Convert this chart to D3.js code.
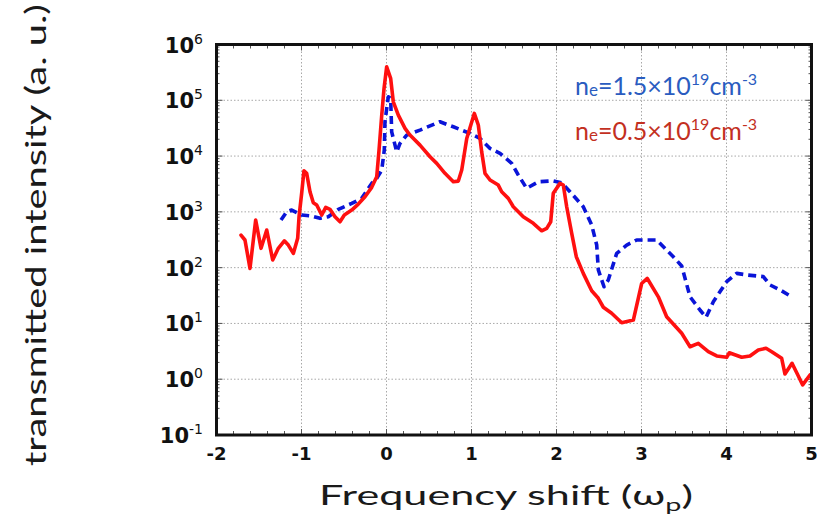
<!DOCTYPE html>
<html>
<head>
<meta charset="utf-8">
<script src="https://cdn.jsdelivr.net/npm/d3@7"></script>
<style>
  html, body { margin: 0; padding: 0; background: #fff; }
  svg { display: block; }
</style>
</head>
<body>
<svg id="chart" width="817" height="527"></svg>
<script>
// Spectrum for n_e = 0.5e19 cm^-3 (solid red)
const redX = [-1.712,-1.665,-1.606,-1.539,-1.476,-1.409,-1.339,-1.273,-1.202,-1.155,-1.096,-1.045,-1.029,-0.998,-0.971,-0.939,-0.900,-0.861,-0.821,-0.762,-0.715,-0.665,-0.606,-0.547,-0.496,-0.409,-0.332,-0.253,-0.174,-0.115,-0.088,-0.056,-0.029,0.002,0.049,0.080,0.139,0.218,0.276,0.394,0.512,0.591,0.688,0.786,0.845,0.885,0.944,1.033,1.080,1.120,1.159,1.218,1.315,1.355,1.433,1.492,1.609,1.727,1.826,1.885,1.932,1.962,2.041,2.080,2.120,2.179,2.233,2.315,2.414,2.492,2.551,2.649,2.767,2.904,3.002,3.068,3.198,3.296,3.473,3.571,3.668,3.786,3.885,4.002,4.033,4.179,4.276,4.374,4.465,4.532,4.649,4.688,4.771,4.845,4.896,4.982];
const redY = [384,313,97,713,222,472,137,222,303,254,180,335,817,2150,5460,4900,2290,1455,1325,877,1205,1110,817,665,877,1077,1380,1866,2750,4260,12800,54300,163000,398000,247000,94000,54300,31300,23800,15700,9730,7400,4900,3460,3560,5610,20700,58200,36000,11900,4900,3720,3020,2290,1745,1233,817,622,458,506,665,2150,3240,3020,1233,412,157,79,38.5,28.2,19.5,15.2,10.3,11.5,52,64,30,13.2,6.65,3.82,4.40,3.11,2.61,2.47,2.98,2.47,2.61,3.34,3.58,3.11,2.37,1.24,1.93,1.14,0.79,1.19];

// Spectrum for n_e = 1.5e19 cm^-3 (dashed blue)
const blueX = [-1.241,-1.174,-1.115,-0.998,-0.880,-0.782,-0.685,-0.567,-0.409,-0.292,-0.174,-0.115,-0.056,-0.026,-0.018,0.021,0.049,0.061,0.120,0.159,0.238,0.394,0.629,0.786,0.982,1.100,1.218,1.335,1.473,1.551,1.649,1.786,1.962,2.061,2.159,2.315,2.414,2.473,2.492,2.559,2.609,2.708,2.826,2.944,3.179,3.374,3.473,3.571,3.688,3.759,3.845,4.002,4.120,4.238,4.433,4.512,4.629,4.767];
const blueY = [713,1005,1077,877,841,765,817,1110,1420,1745,3240,3980,5610,12800,41200,116000,108000,27200,11900,16900,23800,29200,41200,33500,25500,20700,13700,11200,7400,4560,2640,3460,3600,3330,2290,1233,580,254,91,45.5,60,180,254,313,313,157,107,30,17.4,12.9,24.5,56,79,74,69,49,40,30];

const xTicks = [-2,-1,0,1,2,3,4,5];
const yExponents = [-1,0,1,2,3,4,5,6];

const svg = d3.select("#chart");
const M = { left: 216.5, right: 811.5, top: 44.5, bottom: 435 };

const x = d3.scaleLinear().domain([-2, 5]).range([M.left, M.right]);
const y = d3.scaleLog().domain([1e-1, 1e6]).range([M.bottom, M.top]);

// dotted grid
const grid = svg.append("g").attr("stroke", "#a8a8a8").attr("stroke-width", 1).attr("stroke-dasharray", "1.5,2");
xTicks.slice(1, -1).forEach(v => {
  grid.append("line").attr("x1", x(v)).attr("x2", x(v)).attr("y1", M.top).attr("y2", M.bottom);
});
yExponents.slice(1, -1).forEach(e => {
  grid.append("line").attr("x1", M.left).attr("x2", M.right).attr("y1", y(Math.pow(10, e))).attr("y2", y(Math.pow(10, e)));
});

// minor / major ticks on all four sides, pointing inward
const ticks = svg.append("g").attr("stroke", "#555").attr("stroke-width", 1);
d3.range(-2, 5.001, 0.2).forEach(v => {
  const isMajor = Math.abs(v - Math.round(v)) < 1e-6;
  const len = isMajor ? 6 : 4;
  ticks.append("line").attr("x1", x(v)).attr("x2", x(v)).attr("y1", M.bottom).attr("y2", M.bottom - len);
  ticks.append("line").attr("x1", x(v)).attr("x2", x(v)).attr("y1", M.top).attr("y2", M.top + len);
});
for (let e = -1; e < 6; e++) {
  for (let k = 1; k <= 9; k++) {
    const v = k * Math.pow(10, e);
    const len = k === 1 ? 6 : 3;
    ticks.append("line").attr("x1", M.left).attr("x2", M.left + len).attr("y1", y(v)).attr("y2", y(v));
    ticks.append("line").attr("x1", M.right).attr("x2", M.right - len).attr("y1", y(v)).attr("y2", y(v));
  }
}

// data lines
const line = d3.line().x(d => x(d[0])).y(d => y(d[1])).curve(d3.curveLinear);
const blueData = blueX.map((v, i) => [v, blueY[i]]);
const redData = redX.map((v, i) => [v, redY[i]]);

svg.append("path").datum(blueData)
  .attr("d", line).attr("fill", "none")
  .attr("stroke", "#0a14d8").attr("stroke-width", 3.6)
  .attr("stroke-dasharray", "8,5").attr("stroke-linejoin", "round");

svg.append("path").datum(redData)
  .attr("d", line).attr("fill", "none")
  .attr("stroke", "#ff1010").attr("stroke-width", 3.6)
  .attr("stroke-linejoin", "round").attr("stroke-linecap", "round");

// frame
svg.append("rect")
  .attr("x", M.left).attr("y", M.top)
  .attr("width", M.right - M.left).attr("height", M.bottom - M.top)
  .attr("fill", "none").attr("stroke", "#111").attr("stroke-width", 3);

// x tick labels
const tickFont = "'DejaVu Sans', sans-serif";
svg.append("g").selectAll("text").data(xTicks).join("text")
  .attr("x", d => x(d)).attr("y", 460)
  .attr("text-anchor", "middle")
  .attr("font-family", tickFont).attr("font-weight", "bold").attr("font-size", 18)
  .attr("fill", "#111")
  .text(d => d);

// y tick labels as powers of ten
const yl = svg.append("g").selectAll("text").data(yExponents).join("text")
  .attr("x", 203).attr("y", d => y(Math.pow(10, d)) + 8)
  .attr("text-anchor", "end")
  .attr("font-family", tickFont).attr("font-weight", "bold").attr("font-size", 21)
  .attr("fill", "#111");
yl.append("tspan").text("10");
yl.append("tspan").attr("dy", -9).attr("font-size", 14).attr("font-weight", "normal").text(d => d);

// axis titles
svg.append("text")
  .attr("x", 506).attr("y", 505)
  .attr("text-anchor", "middle")
  .attr("font-family", "Lato, sans-serif").attr("font-size", 27)
  .attr("textLength", 374).attr("lengthAdjust", "spacingAndGlyphs")
  .attr("fill", "#1a1a1a")
  .call(t => {
    t.append("tspan").text("Frequency shift (ω");
    t.append("tspan").attr("dy", 6).attr("font-size", 18).text("p");
    t.append("tspan").attr("dy", -6).text(")");
  });

svg.append("text")
  .attr("transform", "translate(46,235) rotate(-90)")
  .attr("text-anchor", "middle")
  .attr("font-family", "Lato, sans-serif").attr("font-size", 28)
  .attr("textLength", 462).attr("lengthAdjust", "spacingAndGlyphs")
  .attr("fill", "#1a1a1a")
  .text("transmitted intensity (a. u.)");

// legend labels
function legendLabel(yPos, color, value) {
  const t = svg.append("text")
    .attr("x", 575).attr("y", yPos)
    .attr("font-family", "Lato, sans-serif").attr("font-size", 25)
    .attr("fill", color);
  t.append("tspan").text("n");
  t.append("tspan").attr("font-size", 17).attr("dy", 1).text("e");
  t.append("tspan").attr("dy", -1).text("=" + value + "×10");
  t.append("tspan").attr("font-size", 16).attr("dy", -10).text("19");
  t.append("tspan").attr("dy", 10).text("cm");
  t.append("tspan").attr("font-size", 16).attr("dy", -10).text("-3");
  return t;
}
legendLabel(95, "#2a5cc0", "1.5");
legendLabel(140, "#c3301f", "0.5");
</script>
</body>
</html>
